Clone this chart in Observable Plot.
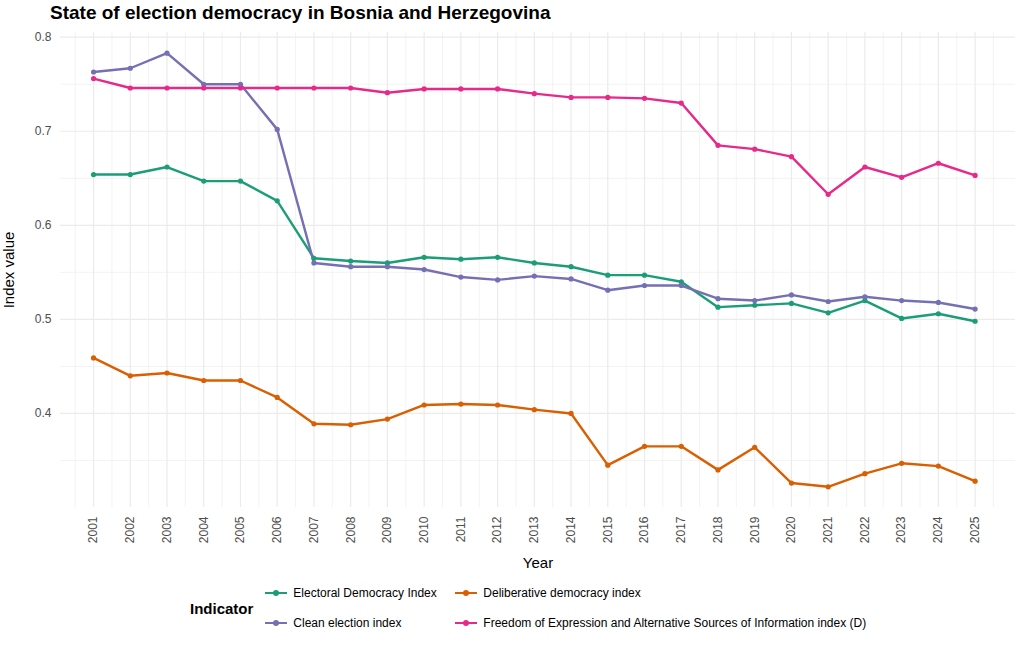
<!DOCTYPE html>
<html><head><meta charset="utf-8">
<script src="https://cdn.jsdelivr.net/npm/d3@7"></script>
<script src="https://cdn.jsdelivr.net/npm/@observablehq/plot@0.6"></script>
<style>
body{margin:0;background:#fff;font-family:Arial,"Liberation Sans",sans-serif;}
#title{font-weight:bold;font-size:19px;padding:2px 0 0 50px;height:23px;}
#legend{display:flex;align-items:center;margin-left:190px;margin-top:8px;font-size:12px;}
.item{display:flex;align-items:center;height:30px;}
.sw{width:22px;position:relative;margin-right:6px;}
.sw:before{content:"";position:absolute;left:0;right:0;top:-1px;height:2px;background:var(--c);}
.sw:after{content:"";position:absolute;left:8px;top:-3px;width:6px;height:6px;border-radius:50%;background:var(--c);}
</style></head><body>
<div id="title">State of election democracy in Bosnia and Herzegovina</div>
<div id="chart"></div>
<div id="legend">
<div style="font-weight:bold;font-size:15px;margin-right:12px;">Indicator</div>
<div style="display:grid;grid-template-columns:190px auto;">
<div class="item"><span class="sw" style="--c:#1b9e77"></span>Electoral Democracy Index</div>
<div class="item"><span class="sw" style="--c:#d95f02"></span>Deliberative democracy index</div>
<div class="item"><span class="sw" style="--c:#7570b3"></span>Clean election index</div>
<div class="item"><span class="sw" style="--c:#e7298a"></span>Freedom of Expression and Alternative Sources of Information index (D)</div>
</div></div>
<script>
const years = d3.range(2001, 2026);
const seriesNames = ["Electoral Democracy Index","Deliberative democracy index","Clean election index","Freedom of Expression and Alternative Sources of Information index (D)"];
const colors = ["#1b9e77","#d95f02","#7570b3","#e7298a"];
const electoral = [0.654,0.654,0.662,0.647,0.647,0.626,0.565,0.562,0.560,0.566,0.564,0.566,0.560,0.556,0.547,0.547,0.540,0.513,0.515,0.517,0.507,0.520,0.501,0.506,0.498];
const deliberative = [0.459,0.440,0.443,0.435,0.435,0.417,0.389,0.388,0.394,0.409,0.410,0.409,0.404,0.400,0.345,0.365,0.365,0.340,0.364,0.326,0.322,0.336,0.347,0.344,0.328];
const clean = [0.763,0.767,0.783,0.750,0.750,0.702,0.560,0.556,0.556,0.553,0.545,0.542,0.546,0.543,0.531,0.536,0.536,0.522,0.520,0.526,0.519,0.524,0.520,0.518,0.511];
const freedom = [0.756,0.746,0.746,0.746,0.746,0.746,0.746,0.746,0.741,0.745,0.745,0.745,0.740,0.736,0.736,0.735,0.730,0.685,0.681,0.673,0.633,0.662,0.651,0.666,0.653];
const allVals = [electoral, deliberative, clean, freedom];
const data = [];
seriesNames.forEach((s,i)=>years.forEach((y,j)=>data.push({year:y,value:allVals[i][j],series:s})));
const chart = Plot.plot({
  width:1024, height:545, marginTop:7, marginBottom:63, marginLeft:60, marginRight:9,
  style:{fontFamily:"Arial, 'Liberation Sans', sans-serif", fontSize:"12px", color:"#4d4d4d"},
  x:{domain:[2000.1,2026.1], ticks:years, tickFormat:d=>String(d), tickRotate:-90, label:"Year", labelAnchor:"center", labelArrow:"none", tickSize:0},
  y:{domain:[0.3,0.805], ticks:[0.4,0.5,0.6,0.7,0.8], tickFormat:d3.format(".1f"), label:"Index value", labelAnchor:"center", labelArrow:"none", tickSize:0},
  color:{domain:seriesNames, range:colors},
  marks:[
    Plot.gridY(d3.range(0.35,0.80,0.1),{stroke:"#ebebeb",strokeWidth:0.6,strokeOpacity:1}),
    Plot.gridY([0.4,0.5,0.6,0.7,0.8],{stroke:"#ebebeb",strokeWidth:1.2,strokeOpacity:1}),
    Plot.gridX(d3.range(2000.5,2026,1),{stroke:"#ebebeb",strokeWidth:0.6,strokeOpacity:1}),
    Plot.gridX(years,{stroke:"#ebebeb",strokeWidth:1.2,strokeOpacity:1}),
    Plot.line(data,{x:"year",y:"value",stroke:"series",strokeWidth:2.4}),
    Plot.dot(data,{x:"year",y:"value",fill:"series",r:2.6})
  ]
});
chart.querySelectorAll("[aria-label='x-axis label'] text, [aria-label='y-axis label'] text").forEach(t=>{t.style.fontSize="15px";t.style.fill="#000";});
document.getElementById("chart").appendChild(chart);
</script></body></html>
